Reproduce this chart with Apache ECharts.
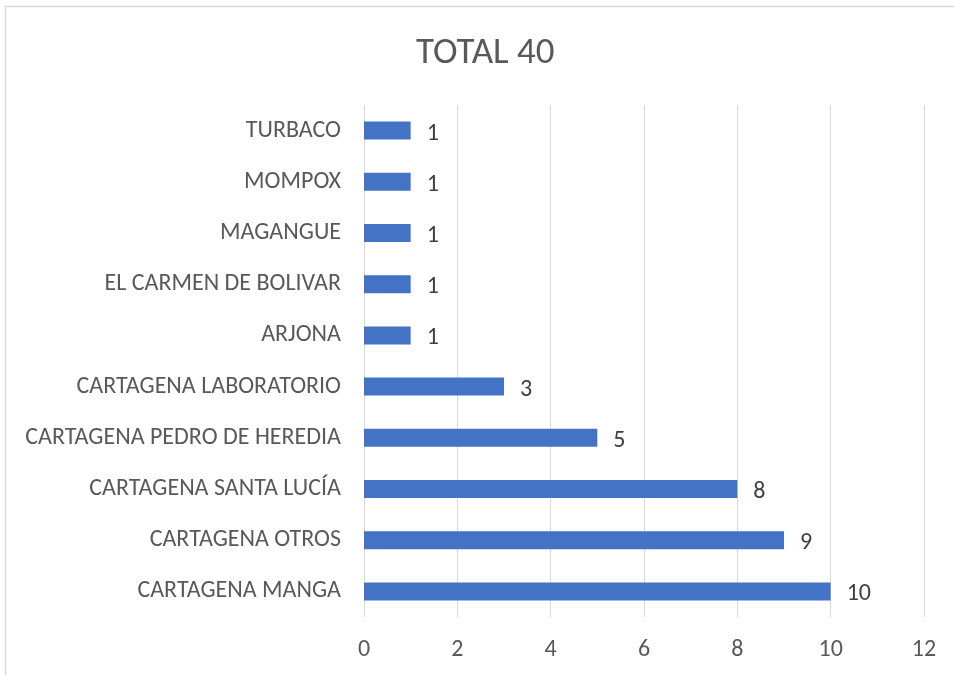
<!DOCTYPE html>
<html><head><meta charset="utf-8">
<script src="https://cdn.jsdelivr.net/npm/echarts@6/dist/echarts.min.js"></script>
<style>html,body{margin:0;padding:0;background:#fff}#c{width:954px;height:675px}</style>
</head><body><div id="c"></div>
<script>
const categories = ["CARTAGENA MANGA","CARTAGENA OTROS","CARTAGENA SANTA LUCÍA","CARTAGENA PEDRO DE HEREDIA","CARTAGENA LABORATORIO","ARJONA","EL CARMEN DE BOLIVAR","MAGANGUE","MOMPOX","TURBACO"];
const values = [10,9,8,5,3,1,1,1,1,1];
const titleText = "TOTAL 40";
const xTicks = {min:0,max:12,interval:2};

const chart = echarts.init(document.getElementById('c'));
const font = "Carlito, 'Liberation Sans Narrow', 'Liberation Sans', sans-serif";
chart.setOption({
  animation:false,
  title:{text:titleText,left:411,top:30,textStyle:{fontFamily:font,fontSize:37,fontWeight:'normal',color:'#595959'}},
  graphic:[{type:'rect',shape:{x:5.5,y:6.5,width:1000,height:700},style:{fill:'none',stroke:'#d9d9d9',lineWidth:1.5},silent:true}],
  grid:{left:364,right:30,top:105,bottom:58},
  xAxis:{type:'value',min:xTicks.min,max:xTicks.max,interval:xTicks.interval,
    axisLine:{show:false},axisTick:{show:false},
    splitLine:{lineStyle:{color:'#d9d9d9',width:1}},
    axisLabel:{fontFamily:font,fontSize:24,color:'#595959',margin:21}},
  yAxis:{type:'category',data:categories,axisLine:{show:false},axisTick:{show:false},
    axisLabel:{fontFamily:font,fontSize:24,color:'#595959',margin:23,padding:[3,0,0,0]}},
  series:[{type:'bar',data:values,barWidth:18,itemStyle:{color:'#4472C4'},
    label:{show:true,position:'right',distance:16,fontFamily:font,fontSize:24,color:'#404040',offset:[0,3]}}]
});
</script></body></html>
